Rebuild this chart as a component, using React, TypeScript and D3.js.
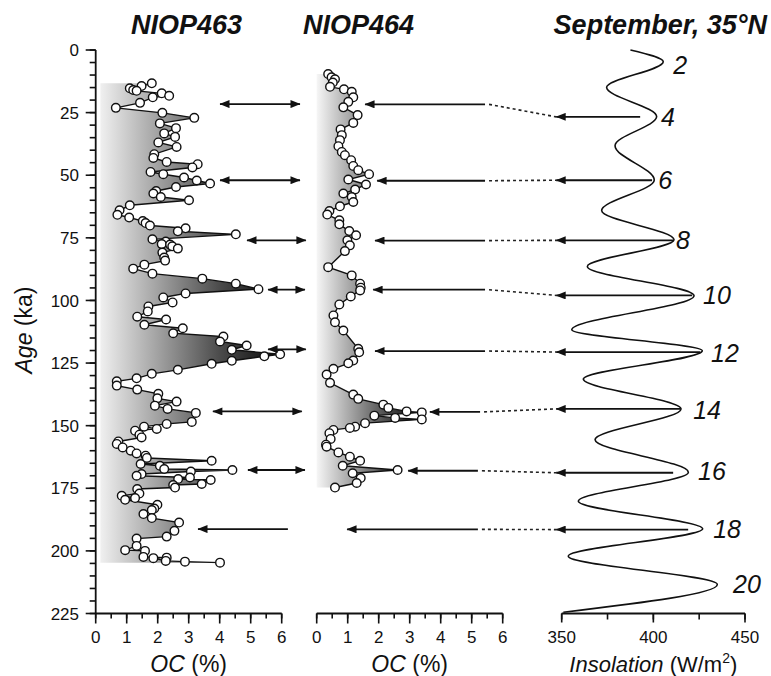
import React from 'react';
import * as d3 from 'd3';

// ---------- data ----------
// NIOP463: [age (ka), OC (%)]
const niop463: [number, number][] = [
  [13.3, 1.81], [14.4, 1.48], [15.3, 1.10], [16.0, 1.21], [16.3, 1.32], [17.3, 2.13], [18.3, 2.37],
  [18.9, 1.84], [21.1, 1.43], [23.1, 0.65], [25.1, 2.15], [27.1, 3.18], [29.3, 2.07], [31.2, 2.59],
  [33.3, 2.21], [34.7, 2.56], [36.9, 2.02], [38.7, 2.61], [41.6, 1.89], [43.1, 1.86], [44.7, 2.29],
  [45.6, 3.29], [46.9, 3.12], [48.7, 1.77], [49.6, 2.18], [50.9, 2.85], [52.1, 3.26], [53.3, 3.69],
  [54.7, 2.59], [56.3, 1.95], [57.3, 1.86], [58.7, 2.10], [60.0, 3.01], [62.0, 1.10], [64.0, 0.77],
  [65.8, 0.70], [66.9, 1.08], [68.3, 1.52], [69.1, 1.61], [70.1, 1.75], [71.2, 2.90], [72.4, 2.65],
  [73.6, 4.52], [75.6, 1.83], [76.5, 2.26], [77.5, 2.13], [77.7, 2.40], [78.4, 2.47], [79.3, 2.65],
  [80.9, 2.15], [82.9, 2.21], [84.1, 2.24], [85.7, 1.57], [87.3, 1.21], [89.3, 1.83], [91.3, 3.44],
  [93.3, 4.52], [95.5, 5.25], [97.2, 2.90], [98.8, 2.18], [100.8, 2.48], [102.4, 1.70], [104.4, 1.68],
  [106.5, 1.34], [107.6, 2.27], [109.7, 1.57], [111.1, 2.81], [113.1, 2.50], [114.4, 4.12], [116.4, 4.01],
  [118.0, 4.87], [119.7, 4.39], [121.5, 5.95], [122.3, 5.44], [124.1, 4.39], [125.3, 3.74], [127.7, 2.65],
  [129.3, 1.81], [131.1, 1.32], [132.3, 0.68], [134.0, 0.68], [135.6, 1.34], [137.3, 2.02], [139.1, 1.99],
  [140.4, 2.61], [142.0, 1.91], [143.3, 2.32], [144.9, 3.23], [148.5, 3.10], [149.3, 2.29], [150.4, 1.56],
  [151.3, 1.97], [152.0, 1.27], [153.6, 1.41], [154.7, 1.48], [156.3, 0.73], [157.3, 0.68], [158.7, 0.87],
  [160.0, 1.13], [161.1, 1.32], [162.0, 1.61], [162.9, 1.65], [164.0, 3.74], [165.3, 1.45], [166.0, 2.07],
  [167.3, 2.21], [167.7, 4.41], [168.3, 3.07], [169.3, 1.48], [170.0, 1.32], [170.7, 3.04], [171.3, 2.66],
  [171.7, 3.71], [173.3, 3.42], [173.7, 2.50], [174.7, 2.56], [175.3, 1.34], [177.1, 1.41], [178.0, 0.84],
  [178.9, 1.27], [179.6, 0.95], [181.6, 1.99], [183.1, 1.89], [183.7, 1.81], [185.3, 1.54], [186.9, 1.81],
  [188.7, 2.69], [192.0, 2.54], [194.3, 2.29], [195.1, 1.32], [198.0, 1.32], [199.7, 0.95], [200.0, 1.59],
  [202.4, 1.54], [202.7, 2.29], [202.9, 1.86], [204.0, 2.26], [204.3, 2.88], [204.7, 4.01],
];

// NIOP464: [age (ka), OC (%)]
const niop464: [number, number][] = [
  [9.6, 0.37], [10.9, 0.48], [11.7, 0.59], [13.0, 0.52], [14.7, 0.43], [15.7, 0.88], [16.7, 1.13],
  [18.9, 1.18], [20.7, 1.02], [22.9, 0.86], [26.0, 1.32], [29.1, 1.18], [31.7, 0.77], [34.0, 0.81],
  [36.0, 0.75], [38.4, 0.70], [40.7, 0.81], [42.0, 0.91], [44.0, 1.11], [46.3, 1.18], [48.0, 1.34],
  [49.6, 1.69], [51.7, 1.02], [53.7, 1.59], [55.7, 1.24], [57.3, 0.86], [58.7, 1.13], [60.7, 1.18],
  [62.4, 0.75], [64.3, 0.41], [65.7, 0.34], [68.0, 0.73], [69.6, 0.73], [72.3, 1.05], [74.0, 1.27],
  [76.0, 0.99], [78.0, 1.07], [80.3, 0.91], [86.7, 0.37], [90.0, 1.13], [93.3, 1.40], [94.9, 1.42],
  [96.0, 1.40], [98.4, 1.10], [101.6, 0.73], [106.0, 0.54], [108.7, 0.59], [112.0, 0.86], [119.3, 1.34],
  [120.7, 1.37], [124.0, 1.18], [125.1, 1.02], [127.3, 0.54], [129.6, 0.32], [132.9, 0.43], [137.6, 1.18],
  [139.3, 1.34], [141.6, 2.15], [142.9, 2.31], [144.3, 2.90], [144.7, 3.39], [146.0, 1.86], [146.9, 2.53],
  [147.5, 3.39], [149.0, 1.56], [150.4, 1.24], [150.9, 1.07], [151.7, 0.54], [153.0, 0.41], [155.3, 0.45],
  [157.6, 0.30], [158.4, 0.32], [160.7, 0.70], [162.4, 1.07], [164.0, 1.40], [166.0, 0.84], [167.7, 2.61],
  [169.0, 1.16], [170.9, 1.42], [172.9, 1.29], [174.7, 0.59],
];

// Insolation, September 35°N: [age (ka), W/m2]
const insolation: [number, number][] = [
  [0, 387.5], [4.7, 405.4], [14.9, 374.5], [26.6, 401.8], [38.2, 379.1], [51.9, 400.5], [64.1, 371.8],
  [75.8, 411.3], [86.4, 364.0], [98.1, 422.2], [111.7, 355.5], [120.1, 426.7], [131.4, 361.8],
  [143.3, 415.1], [155.6, 368.2], [168.6, 419.1], [180.2, 359.1], [191.2, 426.9], [202.1, 353.6],
  [213.4, 434.9], [224.5, 350.9],
];

// peak labels: number, age, insolation at label centre
const peakNames = ['2', '4', '6', '8', '10', '12', '14', '16', '18', '20'];
const peakAges = [6, 26.7, 51.9, 75.8, 97.7, 120.9, 143.6, 168.3, 191.1, 213.4];
const peakLabelIns = [414.7, 408, 406.4, 416.2, 434.7, 439.1, 429.3, 432, 440.2, 451.1];

// links NIOP463 <-> NIOP464 (ages, left-panel OC units)
const link12Ages = [21.6, 52, 76, 95.7, 119.5, 144.3, 167.7];
const link12From = [4.01, 4.01, 4.88, 5.56, 5.56, 3.78, 4.91];
const link12To = [6.59, 6.59, 6.78, 6.75, 6.78, 6.65, 6.75];
const single12Age = 191.3;
const single12Head = 3.3;
const single12Tail = 6.2;

// links NIOP464 <- insolation
const link23MidAges = [21.7, 52.2, 76.1, 95.7, 120.2, 144.5, 168, 191.4];
const link23MidHead = [1.56, 1.95, 1.88, 1.82, 1.88, 3.65, 2.95, 0.98];
const link23MidTail = [5.43, 5.43, 5.43, 5.43, 5.43, 5.27, 5.2, 5.2];
const link23InsAges = [26.7, 52.0, 76.0, 98.0, 120.6, 143.3, 168.8, 191.5];
const link23InsTail = [392.8, 399.3, 410.8, 421.2, 425.6, 414.6, 410.8, 419];
const link23InsHead = 347;

const ageTicks = d3.range(0, 226, 25);
const ageMinor = d3.range(0, 226, 5);
const ocTicks = d3.range(0, 7, 1);
const ocMinor = d3.range(0, 6.01, 0.5);
const insTicks = [350, 400, 450];
const insMinor = [350, 375, 400, 425, 450];

const FONT = "'Liberation Sans', Arial, Helvetica, sans-serif";

export default function App() {
  const W = 771, H = 676;
  const y = d3.scaleLinear().domain([0, 225]).range([50, 613.5]);
  const xL = d3.scaleLinear().domain([0, 6]).range([95.7, 281.7]);
  const xM = d3.scaleLinear().domain([0, 6]).range([316.7, 502.7]);
  const xR = d3.scaleLinear().domain([350, 450]).range([561.7, 745]);
  const axisY = y(225);

  const areaL = d3.area<[number, number]>().y(d => y(d[0])).x0(xL(0.15)).x1(d => xL(d[1]));
  const lineL = d3.line<[number, number]>().x(d => xL(d[1])).y(d => y(d[0]));
  const areaM = d3.area<[number, number]>().y(d => y(d[0])).x0(xM(0)).x1(d => xM(d[1]));
  const lineM = d3.line<[number, number]>().x(d => xM(d[1])).y(d => y(d[0]));
  const lineR = d3.line<[number, number]>().x(d => xR(d[1])).y(d => y(d[0])).curve(d3.curveMonotoneY);

  const txt = { fontFamily: FONT, fill: '#111' } as const;

  const bottomAxis = (x: d3.ScaleLinear<number, number>, majors: number[], minors: number[], key: string, minorLen = 5, majorLen = 10) => (
    <g key={key}>
      <line x1={x(x.domain()[0])} x2={x(x.domain()[1])} y1={axisY} y2={axisY} stroke="#111" strokeWidth={1.8} />
      {minors.map((v, i) => (
        <line key={'m' + i} x1={x(v)} x2={x(v)} y1={axisY} y2={axisY + minorLen} stroke="#111" strokeWidth={1.6} />
      ))}
      {majors.map((v, i) => (
        <g key={'M' + i}>
          <line x1={x(v)} x2={x(v)} y1={axisY} y2={axisY + majorLen} stroke="#111" strokeWidth={1.6} />
          <text x={x(v)} y={axisY + 29} textAnchor="middle" fontSize={17} style={txt}>{v}</text>
        </g>
      ))}
    </g>
  );

  return (
    <svg width={W} height={H} style={{ position: 'absolute', left: 0, top: 0, background: '#fff' }}>
      <defs>
        <linearGradient id="gL" gradientUnits="userSpaceOnUse" x1={xL(0)} x2={xL(6.2)} y1={0} y2={0}>
          <stop offset="0" stopColor="#f6f6f6" />
          <stop offset="0.3" stopColor="#a8a8a8" />
          <stop offset="0.65" stopColor="#4a4a4a" />
          <stop offset="1" stopColor="#000" />
        </linearGradient>
        <linearGradient id="gM" gradientUnits="userSpaceOnUse" x1={xM(0)} x2={xM(3.5)} y1={0} y2={0}>
          <stop offset="0" stopColor="#f6f6f6" />
          <stop offset="0.3" stopColor="#a8a8a8" />
          <stop offset="0.65" stopColor="#4a4a4a" />
          <stop offset="1" stopColor="#000" />
        </linearGradient>
        <marker id="ah" viewBox="0 0 10 8" refX="9.5" refY="4" markerWidth="11" markerHeight="8"
          markerUnits="userSpaceOnUse" orient="auto-start-reverse">
          <path d="M0,0 L10,4 L0,8 Z" fill="#111" />
        </marker>
      </defs>

      {/* titles */}
      <text x={186.5} y={34} textAnchor="middle" fontSize={27} fontWeight="bold" fontStyle="italic" style={txt}>NIOP463</text>
      <text x={358.5} y={34} textAnchor="middle" fontSize={27} fontWeight="bold" fontStyle="italic" style={txt}>NIOP464</text>
      <text x={767} y={34} textAnchor="end" fontSize={27} fontWeight="bold" fontStyle="italic" style={txt}>September, 35°N</text>

      {/* left y axis */}
      <line x1={xL(0)} x2={xL(0)} y1={y(0)} y2={y(225)} stroke="#111" strokeWidth={1.8} />
      {ageMinor.map((v, i) => (
        <line key={'am' + i} x1={xL(0) - 6} x2={xL(0)} y1={y(v)} y2={y(v)} stroke="#111" strokeWidth={1.6} />
      ))}
      {ageTicks.map((v, i) => (
        <g key={'aM' + i}>
          <line x1={xL(0) - 10} x2={xL(0)} y1={y(v)} y2={y(v)} stroke="#111" strokeWidth={1.6} />
          <text x={79} y={y(v)} dy="0.36em" textAnchor="end" fontSize={17} style={txt}>{v}</text>
        </g>
      ))}
      <text transform={`translate(32, ${330}) rotate(-90)`} textAnchor="middle" fontSize={23} style={txt}>
        <tspan fontStyle="italic">Age</tspan><tspan> (ka)</tspan>
      </text>

      {/* NIOP463 */}
      <path d={areaL(niop463) || ''} fill="url(#gL)" />
      <path d={lineL(niop463) || ''} fill="none" stroke="#111" strokeWidth={1.4} />
      {niop463.map((d, i) => (
        <circle key={'c1' + i} cx={xL(d[1])} cy={y(d[0])} r={4.3} fill="#fff" stroke="#111" strokeWidth={1.4} />
      ))}
      {bottomAxis(xL, ocTicks, ocMinor, 'axL')}
      <text x={xL(3)} y={672} textAnchor="middle" fontSize={23} style={txt}>
        <tspan fontStyle="italic">OC</tspan><tspan> (%)</tspan>
      </text>

      {/* NIOP464 */}
      <path d={areaM(niop464) || ''} fill="url(#gM)" />
      <path d={lineM(niop464) || ''} fill="none" stroke="#111" strokeWidth={1.4} />
      {niop464.map((d, i) => (
        <circle key={'c2' + i} cx={xM(d[1])} cy={y(d[0])} r={4.3} fill="#fff" stroke="#111" strokeWidth={1.4} />
      ))}
      {bottomAxis(xM, ocTicks, ocMinor, 'axM')}
      <text x={xM(3)} y={672} textAnchor="middle" fontSize={23} style={txt}>
        <tspan fontStyle="italic">OC</tspan><tspan> (%)</tspan>
      </text>

      {/* Insolation */}
      <path d={lineR(insolation) || ''} fill="none" stroke="#111" strokeWidth={1.6} />
      {bottomAxis(xR, insTicks, insMinor, 'axR', 6, 9)}
      <text x={xR(400)} y={672} textAnchor="middle" fontSize={22} style={txt}>
        <tspan fontStyle="italic">Insolation</tspan><tspan> (W/m</tspan>
        <tspan fontSize={14} dy={-9}>2</tspan><tspan dy={9}>)</tspan>
      </text>
      {peakNames.map((n, i) => (
        <text key={'pk' + i} x={xR(peakLabelIns[i])} y={y(peakAges[i])} dy="0.36em" textAnchor="middle"
          fontSize={25} fontStyle="italic" style={txt}>{n}</text>
      ))}

      {/* double arrows NIOP463 <-> NIOP464 */}
      {link12Ages.map((a, i) => (
        <line key={'l12' + i} x1={xL(link12From[i])} x2={xL(link12To[i])} y1={y(a)} y2={y(a)}
          stroke="#111" strokeWidth={1.8} markerStart="url(#ah)" markerEnd="url(#ah)" />
      ))}
      <line x1={xL(single12Tail)} x2={xL(single12Head)} y1={y(single12Age)} y2={y(single12Age)}
        stroke="#111" strokeWidth={1.8} markerEnd="url(#ah)" />

      {/* arrows insolation -> NIOP464 */}
      {link23MidAges.map((a, i) => (
        <g key={'l23' + i}>
          <line x1={xM(link23MidTail[i])} x2={xM(link23MidHead[i])} y1={y(a)} y2={y(a)}
            stroke="#111" strokeWidth={1.8} markerEnd="url(#ah)" />
          <line x1={xM(link23MidTail[i]) + 4} x2={xR(link23InsHead)} y1={y(a)} y2={y(link23InsAges[i])}
            stroke="#222" strokeWidth={1.6} strokeDasharray="3 3" />
          <line x1={xR(link23InsTail[i])} x2={xR(link23InsHead)} y1={y(link23InsAges[i])} y2={y(link23InsAges[i])}
            stroke="#111" strokeWidth={1.8} markerEnd="url(#ah)" />
        </g>
      ))}
    </svg>
  );
}
